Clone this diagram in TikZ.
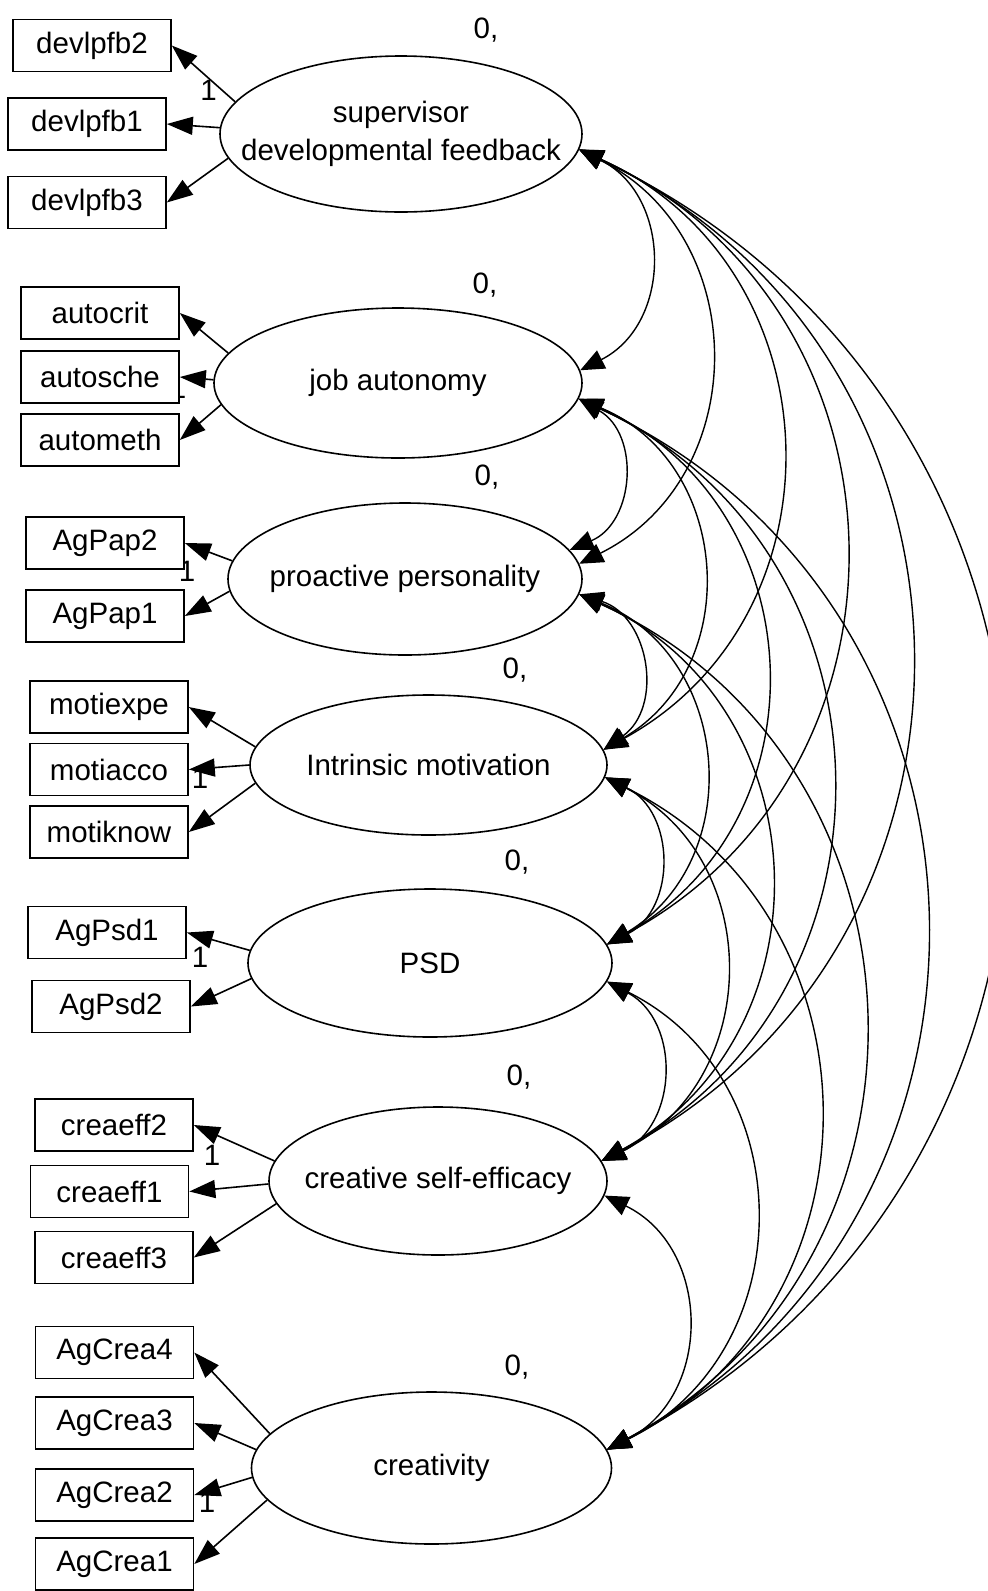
\documentclass[tikz,border=0pt]{standalone}
\usepackage{fontspec}
\setmainfont{Liberation Sans}
\usetikzlibrary{arrows.meta,shapes.geometric}
\begin{document}
\begin{tikzpicture}[x=0.5pt,y=0.5pt,
  font=\fontsize{14.75}{19}\selectfont,
  obs/.style={draw, line width=0.8pt, fill=white, minimum width=79pt, minimum height=26pt, inner sep=0pt},
  lat/.style={draw, ellipse, line width=0.8pt, inner sep=0pt},
  load/.style={line width=0.8pt, -{Triangle[length=13pt,width=9pt]}},
  cov/.style={line width=0.7pt, {Triangle[length=12pt,width=10pt]}-{Triangle[length=12pt,width=10pt]}, bend left=63.5, looseness=1.2},
  lbl/.style={inner sep=0pt},
]
\fill[white] (0,0) rectangle (987,-1591);
\useasboundingbox (0,0) rectangle (987,-1591);

% loading "1" labels
\node[lbl] (o1) at (208.6,-90) {1};
\node[lbl] (o2) at (178,-388) {1};
\node[lbl] (o3) at (187,-571) {1};
\node[lbl] (o4) at (200,-778) {1};
\node[lbl] (o5) at (200,-957) {1};
\node[lbl] (o6) at (212,-1155) {1};
\node[lbl] (o7) at (207,-1502) {1};

% observed variables
\node[obs] (b2) at (92,-45.5) {devlpfb2};
\node[obs] (b1) at (87,-124) {devlpfb1};
\node[obs] (b3) at (87,-202.5) {devlpfb3};
\node[obs] (ac) at (100,-313) {autocrit};
\node[obs] (as) at (100,-377) {autosche};
\node[obs] (am) at (100,-440) {autometh};
\node[obs] (pa2) at (105,-543) {AgPap2};
\node[obs] (pa1) at (105,-616) {AgPap1};
\node[obs] (me) at (109,-707) {motiexpe};
\node[obs] (ma) at (109,-769.5) {motiacco};
\node[obs] (mk) at (109,-832) {motiknow};
\node[obs] (ps1) at (107,-932.5) {AgPsd1};
\node[obs] (ps2) at (111,-1006.5) {AgPsd2};
\node[obs] (ce2) at (114,-1125) {creaeff2};
\node[obs] (ce1) at (109.5,-1191.5) {creaeff1};
\node[obs] (ce3) at (114,-1257.5) {creaeff3};
\node[obs] (cr4) at (114.5,-1352.5) {AgCrea4};
\node[obs] (cr3) at (114.5,-1423) {AgCrea3};
\node[obs] (cr2) at (114.5,-1495) {AgCrea2};
\node[obs] (cr1) at (114.5,-1564) {AgCrea1};

% latent variables
\node[lat, minimum width=181pt, minimum height=78pt] (e1) at (401,-134) {};
\node[lat, minimum width=184pt, minimum height=75pt] (e2) at (398,-383) {};
\node[lat, minimum width=177pt, minimum height=76pt] (e3) at (405,-579) {};
\node[lat, minimum width=178.5pt, minimum height=70pt] (e4) at (428.5,-765) {};
\node[lat, minimum width=182pt, minimum height=74pt] (e5) at (430,-963) {};
\node[lat, minimum width=169pt, minimum height=74pt] (e6) at (438,-1181) {};
\node[lat, minimum width=180pt, minimum height=76pt] (e7) at (431.5,-1468) {};

\node[align=center] (t1) at (e1.center) {supervisor\\developmental feedback};
\node (t2) at (e2.center) {job autonomy};
\node (t3) at (e3.center) {proactive personality};
\node (t4) at (e4.center) {Intrinsic motivation};
\node (t5) at (e5.center) {PSD};
\node (t6) at (e6.center) {creative self-efficacy};
\node (t7) at (e7.center) {creativity};

% variance labels
\node[lbl] (v1) at (486,-30) {0,};
\node[lbl] (v2) at (485,-285) {0,};
\node[lbl] (v3) at (487,-477) {0,};
\node[lbl] (v4) at (515,-670) {0,};
\node[lbl] (v5) at (517,-862) {0,};
\node[lbl] (v6) at (519,-1077) {0,};
\node[lbl] (v7) at (517,-1367) {0,};

% loadings
\draw[load] (e1.169.3) -- (b2.east);
\draw[load] (e1.178.7) -- (b1.east);
\draw[load] (e1.188.2) -- (b3.east);
\draw[load] (e2.170.9) -- (ac.east);
\draw[load] (e2.179) -- (as.east);
\draw[load] (e2.187.7) -- (am.east);
\draw[load] (e3.174.8) -- (pa2.east);
\draw[load] (e3.184.9) -- (pa1.east);
\draw[load] (e4.174.1) -- (me.east);
\draw[load] (e4.180.3) -- (ma.east);
\draw[load] (e4.186.2) -- (mk.east);
\draw[load] (e5.176.9) -- (ps1.east);
\draw[load] (e5.185) -- (ps2.east);
\draw[load] (e6.173.8) -- (ce2.east);
\draw[load] (e6.181) -- (ce1.east);
\draw[load] (e6.188) -- (ce3.east);
\draw[load] (e7.168.9) -- (cr4.east);
\draw[load] (e7.174.9) -- (cr3.east);
\draw[load] (e7.183.5) -- (cr2.east);
\draw[load] (e7.191.3) -- (cr1.east);

% covariances
\draw[cov] (e1.-5.4) to (e2.4.8);
\draw[cov] (e1.-5.4) to (e3.5.6);
\draw[cov] (e1.-5.4) to (e4.5.5);
\draw[cov] (e1.-5.4) to (e5.6.4);
\draw[cov] (e1.-5.4) to (e6.7.3);
\draw[cov] (e1.-5.4) to (e7.6.8);
\draw[cov] (e2.-5.4) to (e3.10.8);
\draw[cov] (e2.-5.4) to (e4.5.5);
\draw[cov] (e2.-5.4) to (e5.6.4);
\draw[cov] (e2.-5.4) to (e6.7.3);
\draw[cov] (e2.-5.4) to (e7.6.8);
\draw[cov] (e3.-5.3) to (e4.5.5);
\draw[cov] (e3.-5.3) to (e5.6.4);
\draw[cov] (e3.-5.3) to (e6.7.3);
\draw[cov] (e3.-5.3) to (e7.6.8);
\draw[cov] (e4.-4.8) to (e5.6.4);
\draw[cov] (e4.-4.8) to (e6.7.3);
\draw[cov] (e4.-4.8) to (e7.6.8);
\draw[cov] (e5.-6) to (e6.7.3);
\draw[cov] (e5.-6) to (e7.6.8);
\draw[cov] (e6.-5.8) to (e7.6.8);
\end{tikzpicture}
\end{document}
